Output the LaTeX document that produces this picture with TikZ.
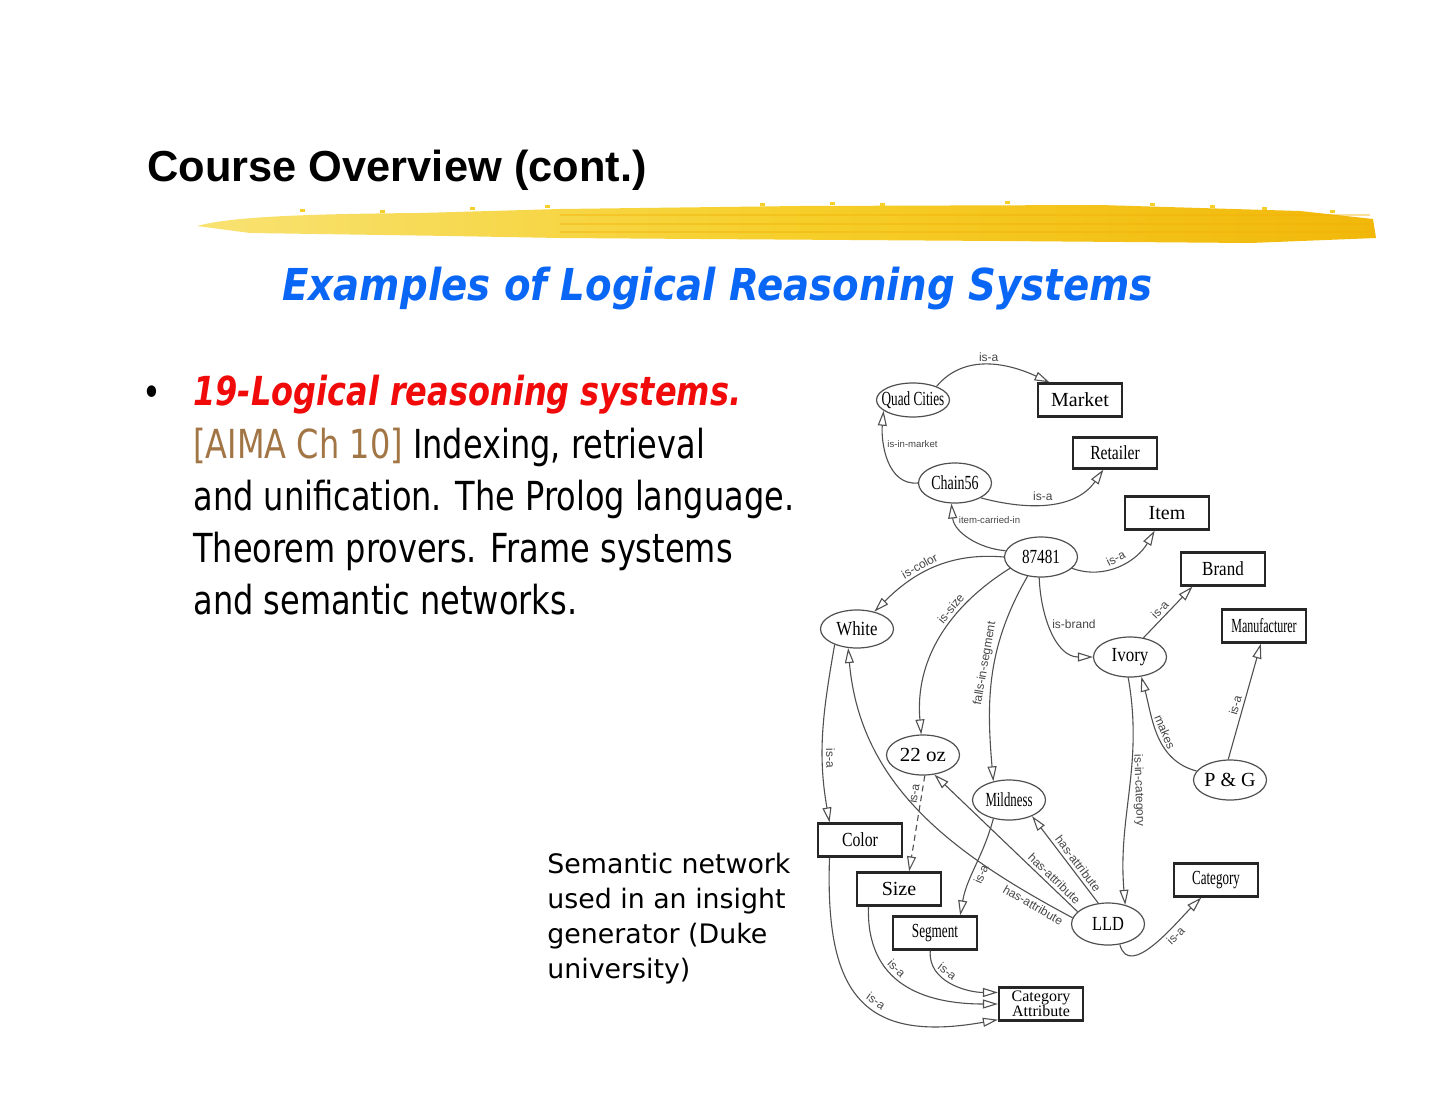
\documentclass[tikz,border=0pt]{standalone}
\usepackage{fontspec}
\setmainfont{Liberation Serif}
\newfontfamily\headfont{Liberation Sans}
\newfontfamily\subfont[FakeStretch=0.88]{DejaVu Sans}
\newfontfamily\slidefont[FakeStretch=0.8]{DejaVu Sans}
\newfontfamily\notefont{DejaVu Sans}
\usetikzlibrary{positioning, arrows.meta, shapes.geometric, calc}
\definecolor{slideblue}{HTML}{0A66F5}
\definecolor{slidered}{HTML}{F00A0A}
\definecolor{refbrown}{HTML}{A27545}
\definecolor{brushpale}{HTML}{F8E272}
\definecolor{brushmid}{HTML}{F6CF2A}
\definecolor{brushgold}{HTML}{F1B80A}
\definecolor{netgray}{HTML}{505050}
\newcommand{\netsq}[2]{\makebox[0pt]{\scalebox{#1}[1]{#2}}}
\tikzset{
  concept/.style = {ellipse, draw=netgray, line width=0.6pt, minimum width=36.5pt,
                    minimum height=20pt, inner sep=0pt, font=\fontsize{10}{11}\selectfont},
  klass/.style   = {rectangle, draw=black!85, line width=1.1pt, minimum width=42pt,
                    minimum height=16.5pt, inner sep=0pt, font=\fontsize{10}{11}\selectfont},
  link/.style    = {draw=netgray, line width=0.55pt,
                    -{Triangle[open, length=7.5pt, width=4.5pt]}},
  tag/.style     = {font=\headfont\fontsize{6}{7}\selectfont, text=black!72, inner sep=1.5pt},
  tagsm/.style   = {font=\headfont\fontsize{4.8}{6}\selectfont, text=black!72, inner sep=1.2pt},
  para/.style    = {anchor=base west, inner sep=0pt, font=\slidefont\fontsize{20}{24}\selectfont},
  capline/.style = {anchor=base west, inner sep=0pt, font=\notefont\fontsize{13.4}{16}\selectfont},
}
\begin{document}
\begin{tikzpicture}[x=0.5pt, y=0.5pt]
\useasboundingbox (0,0) rectangle (1440,-1113);
\fill[white] (0,0) rectangle (1440,-1113);

% slide heading and brush stroke
\node (title) [anchor=base west, inner sep=0pt,
  font=\headfont\bfseries\fontsize{21.7}{26}\selectfont] at (147,-182) {Course Overview (cont.)};
\shade[left color=brushpale, right color=brushgold, middle color=brushmid]
  (197,-226) .. controls (230,-217) and (300,-214) .. (420,-213) -- (560,-209) -- (800,-206)
  -- (1100,-205) -- (1300,-211) -- (1373,-219) -- (1376,-238) -- (1250,-243) -- (1000,-241)
  -- (700,-239) -- (560,-238) -- (450,-236) -- (250,-233) -- cycle;
\foreach \ly/\lw in {-215/1.0, -224/1.4, -232/1.0}
  \draw[brushgold!85!orange, line width=\lw pt, opacity=0.4] (560,\ly) -- (1370,\ly);
\foreach \sx/\sy in {300/-209, 380/-210, 470/-207, 545/-205, 760/-203, 830/-202, 880/-203,
                     1005/-201, 1150/-203, 1210/-205, 1262/-207, 1330/-210}
  \fill[brushmid] (\sx,\sy) rectangle ++(5,-3);
\node (subtitle) [anchor=base west, inner sep=0pt, text=slideblue,
  font=\subfont\bfseries\itshape\fontsize{22}{26}\selectfont] at (282,-300)
  {Examples of Logical Reasoning Systems};

% bullet text
\node (bullet) [inner sep=0pt, font=\slidefont\fontsize{20}{24}\selectfont] at (152,-396) {•};
\node (topic) [para, text=slidered, font=\slidefont\bfseries\itshape\fontsize{20}{24}\selectfont]
  at (193,-405) {19-Logical reasoning systems.};
\node (line2) [para] at (193,-458) {\textcolor{refbrown}{[AIMA Ch 10]} Indexing, retrieval};
\node (line3) [para] at (193,-510) {and unification. The Prolog language.};
\node (line4) [para] at (193,-562) {Theorem provers. Frame systems};
\node (line5) [para] at (193,-614) {and semantic networks.};

% caption
\node (cap1) [capline] at (547,-873) {Semantic network};
\node (cap2) [capline] at (547,-908) {used in an insight};
\node (cap3) [capline] at (547,-943) {generator (Duke};
\node (cap4) [capline] at (547,-978) {university)};

% semantic network nodes
\node (qc) [concept, minimum height=17pt] at (913,-400) {\netsq{0.66}{Quad Cities}};
\node (market) [klass] at (1080,-400) {\netsq{1}{Market}};
\node (retailer) [klass, minimum height=15.5pt] at (1115,-453) {\netsq{0.78}{Retailer}};
\node (chain) [concept] at (955,-483) {\netsq{0.7}{Chain56}};
\node (item) [klass] at (1167,-513) {\netsq{1}{Item}};
\node (n87481) [concept] at (1041,-557) {\netsq{0.76}{87481}};
\node (brand) [klass] at (1223,-569) {\netsq{0.85}{Brand}};
\node (manuf) [klass] at (1264,-626) {\netsq{0.6}{Manufacturer}};
\node (white) [concept, minimum height=19pt] at (857,-629) {\netsq{0.84}{White}};
\node (ivory) [concept] at (1130,-657) {\netsq{0.85}{Ivory}};
\node (oz) [concept] at (923,-755) {\netsq{1.05}{22 oz}};
\node (pg) [concept] at (1230,-780) {\netsq{1}{P \& G}};
\node (mild) [concept] at (1009,-800) {\netsq{0.64}{Mildness}};
\node (color) [klass] at (860,-840) {\netsq{0.79}{Color}};
\node (size) [klass] at (899,-889) {\netsq{1}{Size}};
\node (cat) [klass] at (1216,-880) {\netsq{0.65}{Category}};
\node (lld) [concept, minimum height=21pt] at (1108,-924) {\netsq{0.82}{LLD}};
\node (segment) [klass] at (935,-933) {\netsq{0.66}{Segment}};
\node (catattr) [klass, align=center, font=\fontsize{8}{7.5}\selectfont] at (1041,-1004)
  {Category\\Attribute};

% links
\draw [link] (qc.30) to[out=50, in=155] node[tag, above, pos=0.5] {is-a} (market.150);
\draw [link] (chain.west) to[out=185, in=-95] node[tagsm, right, pos=0.66] {is-in-market} (qc.200);
\draw [link] (chain.-30) to[out=-15, in=235] node[tag, above, pos=0.45] {is-a} (retailer.235);
\draw [link] (n87481.170) to[out=175, in=-85] node[tagsm, right, pos=0.78] {item-carried-in} (chain.-100);
\draw [link] (n87481.-20) to[out=-20, in=240] node[tag, sloped, above, pos=0.5] {is-a} (item.235);
\draw [link] (n87481.west) to[out=175, in=45] node[tag, sloped, above, pos=0.58] {is-color} (white.45);
\draw [link] (n87481.200) to[out=212, in=95] node[tag, sloped, above, pos=0.34] {is-size} (oz.95);
\draw [link] (n87481.235) to[out=240, in=95] node[tag, sloped, above, pos=0.45] {falls-in-segment} (mild.130);
\draw [link] (n87481.265) to[out=-88, in=180] node[tag, right, pos=0.42] {is-brand} (ivory.west);
\draw [link] (ivory.55) -- node[tag, sloped, above, pos=0.45] {is-a} (brand.210);
\draw [link] (pg.95) -- node[tag, sloped, above, pos=0.45] {is-a} (manuf.260);
\draw [link] (pg.165) to[out=165, in=-75] node[tag, sloped, above, pos=0.5] {makes} (ivory.-60);
\draw [link] (ivory.-95) to[out=-80, in=95] node[tag, rotate=-88, anchor=south, pos=0.5] {is-in-category} (lld.48);
\draw [link] (white.215) to[out=-100, in=100] node[tag, sloped, above, pos=0.65] {is-a} (color.150);
\draw [link, densely dashed] (oz.-85) -- node[tag, sloped, above, pos=0.2] {is-a} (size.60);
\draw [link] (lld.115) -- node[tag, sloped, above, pos=0.4] {has-attribute} (mild.-35);
\draw [link] (lld.158) -- node[tag, sloped, above, pos=0.2] {has-attribute} (oz.-60);
\draw [link] (lld.170) to[out=152, in=-85] node[tag, sloped, below, pos=0.1] {has-attribute} (white.-115);
\draw [link] (mild.-130) to[out=-105, in=80] node[tag, sloped, below, pos=0.55] {is-a} (segment.35);
\draw [link] (lld.-60) to[out=-75, in=225] node[tag, sloped, below, pos=0.66] {is-a} (cat.230);
\draw [link] (segment.-105) to[out=-95, in=180] node[tag, sloped, above, pos=0.38] {is-a} (catattr.165);
\draw [link] (size.-150) to[out=-92, in=180, looseness=1.2] node[tag, sloped, above, pos=0.4] {is-a} (catattr.west);
\draw [link] (color.-150) to[out=-92, in=190, looseness=1.5] node[tag, sloped, above, pos=0.56] {is-a} (catattr.200);

\end{tikzpicture}
\end{document}
